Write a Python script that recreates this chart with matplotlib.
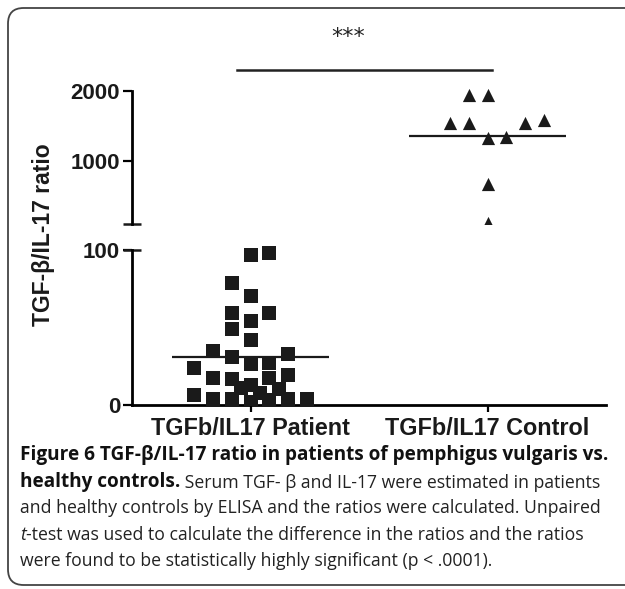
import numpy as np
import matplotlib
matplotlib.use('Agg')
import matplotlib.pyplot as plt
from matplotlib.patches import FancyBboxPatch
import matplotlib.transforms as mtransforms

# values
groups = ['TGFb/IL17 Patient', 'TGFb/IL17 Control']
patient_ratio = [96.8, 97.8, 78.5, 70.3, 59.1, 59.1, 54.4, 49.0, 41.9, 35.1,
                 32.9, 30.8, 27.3, 26.5, 23.7, 19.4, 17.2, 17.2, 16.6, 12.9,
                 10.8, 10.1, 7.5, 6.5, 3.7, 3.7, 3.7, 3.7, 3.2, 2.1]
patient_col = [0, 1, -1, 0, -1, 1, 0, -1, 0, -2,
               2, -1, 1, 0, -3, 2, -2, 1, -1, 0,
               -0.5, 1.5, 0.5, -3, -2, -1, 2, 3, 1, 0]
control_ratio = [1950, 1950, 1540, 1540, 1540, 1580, 1330, 1350, 670, 110]
control_col = [-1, 0, -2, -1, 2, 3, 0, 1, 0, 0]

lower_ticks = [0, 100]
upper_ticks = [1000, 2000]

col_step = 0.079
mean_half = 0.33
ink = '#1a1a1a'

fig = plt.figure(figsize=(6.25, 5.89), dpi=100)

ax_lo = fig.add_axes([0.2112, 0.3124, 0.7584, 0.2895])
ax_hi = fig.add_axes([0.2112, 0.6197, 0.7584, 0.2436])

px = np.array(patient_col) * col_step + 0
cx = np.array(control_col) * col_step + 1

ax_lo.scatter(px, patient_ratio, marker='s', s=10.5**2, color=ink,
              linewidths=0, zorder=3)
ax_hi.scatter(cx, control_ratio, marker='^', s=9.5**2, color=ink,
              linewidths=0, zorder=3)

for ax in (ax_lo, ax_hi):
    ax.set_xlim(-0.5, 1.5)
    for s in ['top', 'right']:
        ax.spines[s].set_visible(False)
    ax.spines['left'].set_linewidth(2.0)
    ax.tick_params(axis='y', direction='out', length=6.5, width=1.6,
                   labelsize=16, pad=2)
    ax.set_facecolor('none')

ax_lo.set_ylim(0, 110)
ax_lo.spines['left'].set_bounds(0, 100)
ax_lo.spines['bottom'].set_linewidth(2.0)
ax_lo.set_yticks(lower_ticks)
ax_lo.set_xticks([0, 1])
ax_lo.set_xticklabels(groups)
ax_lo.tick_params(axis='x', direction='out', length=5, width=1.6,
                  labelsize=16.8, pad=4)
ax_lo.hlines(np.mean(patient_ratio), -mean_half, mean_half, color=ink,
             lw=1.6, zorder=4)

ax_hi.set_ylim(100, 2150)
ax_hi.spines['left'].set_bounds(100, 2000)
ax_hi.spines['bottom'].set_visible(False)
ax_hi.set_xticks([])
ax_hi.set_yticks(upper_ticks)
ax_hi.hlines(np.mean(control_ratio), 1 - mean_half, 1 + mean_half,
             color=ink, lw=1.6, zorder=4)

# caps at the axis break
for ax in (ax_hi, ax_lo):
    tr = mtransforms.blended_transform_factory(ax.transAxes, ax.transData)
    ax.plot([0], [100], marker='_', ms=13, mew=1.8, color=ink,
            transform=tr, clip_on=False)

for ax in (ax_lo, ax_hi):
    for lab in ax.get_yticklabels() + ax.get_xticklabels():
        lab.set_fontfamily('Liberation Sans')
        lab.set_fontweight('bold')
        lab.set_color(ink)

fig.text(0.069, 0.601, 'TGF-β/IL-17 ratio', rotation=90, ha='center',
         va='center', fontsize=16.5, color=ink, family='Liberation Sans',
         weight='bold')

# overlay for frame, significance bar and caption
ov = fig.add_axes([0, 0, 1, 1], zorder=-1)
ov.set_xlim(0, 1)
ov.set_ylim(0, 1)
ov.axis('off')
frame = FancyBboxPatch((8 / 625, 4 / 589), 1.2, 577 / 589,
                       boxstyle='round,pad=0,rounding_size=0.025',
                       mutation_aspect=625 / 589, fc='white', ec='#444444',
                       lw=1.3)
ov.add_patch(frame)

top = fig.add_axes([0, 0, 1, 1])
top.set_xlim(0, 1)
top.set_ylim(0, 1)
top.axis('off')
top.plot([237 / 625, 492 / 625], [519 / 589, 519 / 589], color='#222222', lw=1.8)
top.text(348 / 625, 552 / 589, '***', ha='center', va='center', fontsize=16,
         family='DejaVu Sans', color='#222222')

cap_font = 'Open Sans'
cb = 13.7   # bold caption size
cr = 12.7   # regular caption size
cx0 = 20 / 625
lines_y = [455, 482, 508, 535, 561]
ys = [(589 - v) / 589 for v in lines_y]

top.text(cx0, ys[0], 'Figure 6 TGF-β/IL-17 ratio in patients of pemphigus vulgaris vs.',
         fontsize=cb, family=cap_font, weight='bold', va='center', color='#111111')
t2 = top.text(cx0, ys[1], 'healthy controls.', fontsize=cb, family=cap_font,
              weight='bold', va='center', color='#111111')
top.annotate(' Serum TGF- β and IL-17 were estimated in patients', xycoords=t2,
             xy=(1, 0), va='bottom', fontsize=cr, family=cap_font, color='#222222')
top.text(cx0, ys[2], 'and healthy controls by ELISA and the ratios were calculated. Unpaired',
         fontsize=cr, family=cap_font, va='center', color='#222222')
t4 = top.text(cx0, ys[3], 't', fontsize=cr, family=cap_font, style='italic',
              va='center', color='#222222')
top.annotate('-test was used to calculate the difference in the ratios and the ratios',
             xycoords=t4, xy=(1, 0), va='bottom', fontsize=cr, family=cap_font,
             color='#222222')
top.text(cx0, ys[4], 'were found to be statistically highly significant (p < .0001).',
         fontsize=cr, family=cap_font, va='center', color='#222222')

fig.savefig('out.png', dpi=100)
